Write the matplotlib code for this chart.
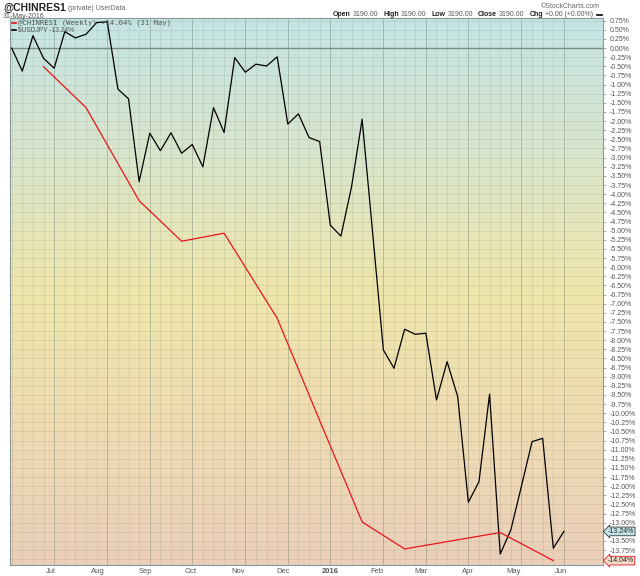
import numpy as np
import pandas as pd
import matplotlib
matplotlib.use("Agg")
import matplotlib.pyplot as plt
import matplotlib.dates as mdates
import matplotlib.transforms as mtransforms
from matplotlib.colors import LinearSegmentedColormap
from matplotlib.lines import Line2D

plt.rcParams['font.family'] = ['Liberation Sans', 'DejaVu Sans']

# weekly bars, 5 Jun 2015 .. 3 Jun 2016
weeks = pd.date_range('2015-06-05', periods=53, freq='7D')

# $USDJPY, % change (weekly)
usdjpy = [0.00, -0.63, 0.34, -0.28, -0.55, 0.45, 0.28, 0.38, 0.70, 0.72,
          -1.12, -1.39, -3.66, -2.33, -2.81, -2.32, -2.88, -2.64, -3.25, -1.63,
          -2.31, -0.26, -0.66, -0.44, -0.49, -0.24, -2.08, -1.80, -2.45, -2.56,
          -4.85, -5.15, -3.80, -1.95, -5.10, -8.27, -8.77, -7.70, -7.84, -7.81,
          -9.64, -8.59, -9.55, -12.44, -11.88, -9.48, -13.86, -13.20, -12.00, -10.78,
          -10.69, -13.70, -13.24]

# @CHINRES1 (monthly values shown on the weekly chart)
chin_week = [3, 7, 12, 16, 20, 25, 29, 33, 37, 46, 51]
chin_vals = [-0.51, -1.63, -4.18, -5.29, -5.07, -7.40, -10.20, -12.98, -13.72, -13.27, -14.04]

month_ticks = pd.to_datetime(['2015-07-01', '2015-08-01', '2015-09-01', '2015-10-01', '2015-11-01',
                              '2015-12-01', '2016-01-01', '2016-02-01', '2016-03-01', '2016-04-01',
                              '2016-05-01', '2016-06-01'])
month_labels = ['Jul', 'Aug', 'Sep', 'Oct', 'Nov', 'Dec', '2016', 'Feb', 'Mar', 'Apr', 'May', 'Jun']

W, H = 640, 576
fig = plt.figure(figsize=(6.4, 5.76), dpi=100)
ax = fig.add_axes([10 / W, 11 / H, 593 / W, 547 / H])

x = mdates.date2num(weeks)
step = x[1] - x[0]
x0 = x[0] - 0.16 * step
x1 = x[0] + 55.68 * step
y0, y1 = -14.16, 0.825

# background gradient
cmap = LinearSegmentedColormap.from_list('bg', [(0.0, '#c4e4e4'), (0.25, '#d9e5cc'),
                                                (0.5, '#efe6ab'), (0.75, '#eedbb2'),
                                                (1.0, '#ebcfba')])
grad = np.linspace(0, 1, 256).reshape(-1, 1)
ax.imshow(grad, cmap=cmap, extent=[0, 1, 0, 1], transform=ax.transAxes,
          aspect='auto', zorder=0, origin='upper')

# grid
for xv in x:
    ax.axvline(xv, color='#4f6350', alpha=0.13, lw=0.6, zorder=1)
for mt in month_ticks:
    i = np.searchsorted(x, mdates.date2num(mt))
    if i < len(x):
        ax.axvline(x[i], color='#4f6350', alpha=0.22, lw=0.7, zorder=1)
for yv in np.arange(0.75, -14.2, -0.25):
    ax.axhline(yv, color='#4f6350', alpha=0.13, lw=0.6, zorder=1)
ax.axhline(0, color='#7d8c86', lw=1.0, zorder=1.5)

ax.plot(x, usdjpy, color='black', lw=0.9, zorder=3)
ax.plot(x[chin_week], chin_vals, color='#e8141b', lw=0.9, zorder=3)

ax.set_xlim(x0, x1)
ax.set_ylim(y0, y1)

for s in ax.spines.values():
    s.set_color('#8a9a9a')
    s.set_linewidth(0.8)

ax.set_xticks(mdates.date2num(month_ticks))
ax.set_xticklabels(month_labels)
for lab in ax.get_xticklabels():
    if lab.get_text() == '2016':
        lab.set_fontweight('bold')
        lab.set_color('black')
ax.tick_params(axis='x', length=0, pad=2, labelsize=5.5, labelcolor='#555555')

yt = [v for v in np.arange(0.75, -13.8, -0.25) if abs(v + 13.25) > 0.01]
ax.set_yticks(yt)
ax.set_yticklabels(['%.2f%%' % v for v in yt])
ax.yaxis.tick_right()
ax.tick_params(axis='y', length=2.5, width=0.5, color='#888888', pad=2,
               labelsize=5, labelcolor='#555555')

# value boxes on the right axis
blend = mtransforms.blended_transform_factory(ax.transAxes, ax.transData)
ax.annotate('%.2f%%' % usdjpy[-1], xy=(1, usdjpy[-1]), xycoords=blend,
            xytext=(3.5, 0), textcoords='offset points', ha='left', va='center',
            fontsize=5, color='#222222', annotation_clip=False,
            bbox=dict(boxstyle='larrow,pad=0.12', fc='#c2e4e8', ec='#333333', lw=0.6))
ax.annotate('%.2f%%' % chin_vals[-1], xy=(1, chin_vals[-1]), xycoords=blend,
            xytext=(3.5, 0), textcoords='offset points', ha='left', va='center',
            fontsize=5, color='#222222', annotation_clip=False,
            bbox=dict(boxstyle='larrow,pad=0.12', fc='#f3dccc', ec='#e8141b', lw=0.6))

# header
def px(xp, yp):
    return xp / W, 1 - yp / H

fig.text(*px(3, 8), '@CHINRES1', fontsize=7.5, fontweight='bold', va='center', color='#222222')
fig.text(*px(68, 8), '(private) UserData', fontsize=5, va='center', color='#666666')
fig.text(*px(3, 16), '31-May-2016', fontsize=5, va='center', color='#555555')
fig.text(*px(600, 6), '\u00a9StockCharts.com', fontsize=5, va='center', ha='right', color='#666666')

prev = fig.text(*px(328, 15), '', fontsize=5, va='center')
for word, val in [('Open', '3190.00'), ('High', '3190.00'), ('Low', '3190.00'),
                  ('Close', '3190.00'), ('Chg', '+0.00 (+0.00%)')]:
    t = plt.annotate(word, xy=(1, 0.5), xycoords=prev, xytext=(3.5, 0), textcoords='offset points',
                     fontsize=5, fontweight='bold', va='center', color='#222222')
    prev = plt.annotate(val, xy=(1, 0.5), xycoords=t, xytext=(1.5, 0), textcoords='offset points',
                        fontsize=5, va='center', color='#555555')
fig.add_artist(Line2D([597 / W, 602 / W], [1 - 15 / H] * 2, color='black', lw=1.2))

# legend
fig.add_artist(Line2D([12 / W, 16 / W], [1 - 23 / H] * 2, color='#e8141b', lw=1.2))
fig.text(*px(18, 23), '@CHINRES1 (Weekly) -14.04% (31 May)', fontsize=5.2,
         family='DejaVu Sans Mono', va='center', color='#555555')
fig.add_artist(Line2D([12 / W, 16 / W], [1 - 29.5 / H] * 2, color='black', lw=1.2))
fig.text(*px(18, 29.5), '$USDJPY -13.24%', fontsize=4.8, va='center', color='#555555')

fig.savefig('out.png', dpi=100)
